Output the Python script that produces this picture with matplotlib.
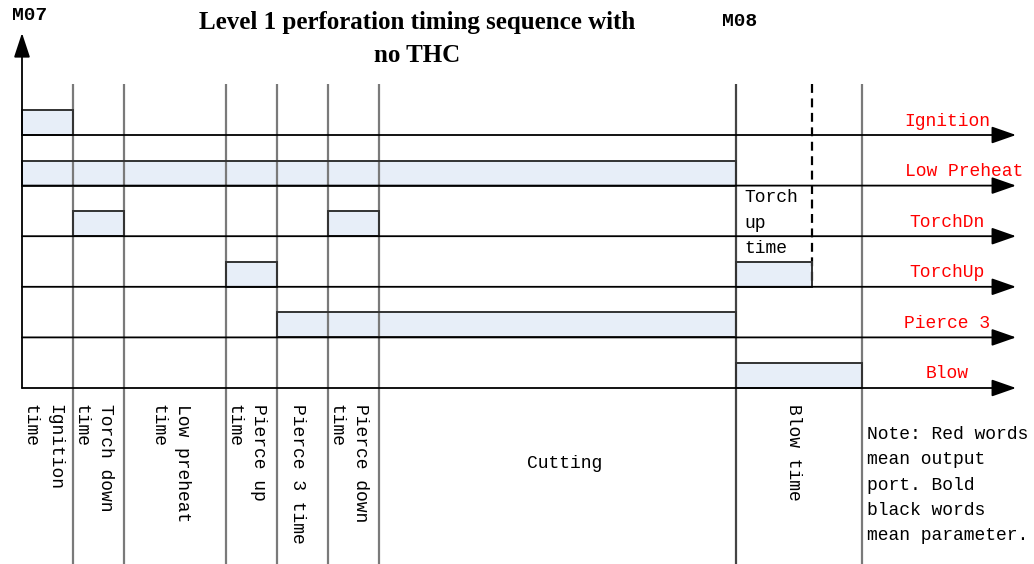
import matplotlib
matplotlib.use("Agg")
import matplotlib.pyplot as plt
from matplotlib.patches import Rectangle

# ---------------- data ----------------
# phase boundaries (time units)
phase_bounds = [0, 1, 2, 4, 5, 6, 7, 14, 16.47]
phase_labels = ["Ignition\ntime", "Torch down\ntime", "Low preheat\ntime",
                "Pierce up\ntime", "Pierce 3 time", "Pierce down\ntime",
                "Cutting", "Blow time"]
torch_up_end = 15.49          # dashed line: end of torch up time

signals = ["Ignition", "Low Preheat", "TorchDn", "TorchUp", "Pierce 3", "Blow"]
pulses = {
    "Ignition":    [(0, 1)],
    "Low Preheat": [(0, 14)],
    "TorchDn":     [(1, 2), (6, 7)],
    "TorchUp":     [(4, 5), (14, torch_up_end)],
    "Pierce 3":    [(5, 14)],
    "Blow":        [(14, 16.47)],
}
title = "Level 1 perforation timing sequence with\nno THC"
note = "Note: Red words\nmean output\nport. Bold\nblack words\nmean parameter."
torch_up_label = "Torch\nup\ntime"

# ---------------- layout ----------------
W, H = 1034, 564
X0, UX = 22.0, 51.0          # pixel of t=0, pixels per time unit
Y0, UY = 135.0, 50.6         # pixel of first baseline, pixels per row

def tx(px):   # pixel x -> time
    return (px - X0) / UX

def ry(py):   # pixel y -> row units
    return (py - Y0) / UY

fig = plt.figure(figsize=(W / 100, H / 100), dpi=100)
ax = fig.add_axes([0, 0, 1, 1])
ax.set_xlim(tx(0), tx(W))
ax.set_ylim(ry(H), ry(0))
ax.axis("off")

mono = ["Liberation Mono", "DejaVu Sans Mono"]
serif = ["Liberation Serif", "DejaVu Serif"]
fill = "#E7EEF8"
grid_c = "#7a7a7a"
t_arrow_end = tx(1016)
pulse_h = 25 / UY

# vertical dividers (drawn over the pulse fill)
top_div = ry(84)
for b in phase_bounds[1:]:
    ax.plot([b, b], [top_div, ry(H + 5)], color=grid_c if b != 14 else "#444444",
            lw=1.6, solid_capstyle="butt", zorder=3.5)
ax.plot([torch_up_end, torch_up_end], [top_div, len(signals) - 3], color="black",
        lw=1.6, ls=(0, (4, 2.5)), zorder=3.6)

# pulses: fill below dividers, outline above
for i, s in enumerate(signals):
    for a, b in pulses[s]:
        ax.add_patch(Rectangle((a, i - pulse_h), b - a, pulse_h, facecolor=fill,
                               edgecolor="none", zorder=3))
        ax.add_patch(Rectangle((a, i - pulse_h), b - a, pulse_h, facecolor="none",
                               edgecolor="#333333", lw=1.4, zorder=3.7))

# horizontal arrows
for i, s in enumerate(signals):
    ax.annotate("", xy=(t_arrow_end, i), xytext=(0, i),
                arrowprops=dict(arrowstyle="-|>,head_length=1.0,head_width=0.35",
                                color="black", lw=1.3, mutation_scale=15,
                                shrinkA=0, shrinkB=0), zorder=4)

# vertical axis
ax.annotate("", xy=(0, ry(33)), xytext=(0, len(signals) - 1),
            arrowprops=dict(arrowstyle="-|>,head_length=1.0,head_width=0.33",
                            color="black", lw=1.3, mutation_scale=15,
                            shrinkA=0, shrinkB=0), zorder=4)

# signal labels
lab_x = {s: tx(947) for s in signals}
lab_x["Low Preheat"] = tx(964)
for i, s in enumerate(signals):
    ax.text(lab_x[s], i - 14 / UY, s, color="red", fontsize=13, family=mono,
            ha="center", va="center", zorder=5)

# phase labels
for k, lab in enumerate(phase_labels):
    a, b = phase_bounds[k], phase_bounds[k + 1]
    if lab == "Cutting":
        ax.text(tx(565), ry(464), lab, fontsize=13, family=mono,
                ha="center", va="center")
    else:
        ax.text((a + b) / 2 - 0.1, ry(404), lab, fontsize=13, family=mono,
                rotation=270, ha="center", va="top", linespacing=1.6,
                multialignment="left")

ax.text(tx(744), ry(223), torch_up_label, fontsize=13, family=mono,
        ha="left", va="center", linespacing=1.64, zorder=5)
ax.text(tx(867), ry(485), note, fontsize=13, family=mono,
        ha="left", va="center", linespacing=1.64)

# title and M codes
ax.text(tx(417), ry(39), title, fontsize=18, family=serif, fontweight="bold",
        ha="center", va="center", linespacing=1.55)
ax.text(tx(30), ry(16), "M07", fontsize=14, family=mono, fontweight="bold",
        ha="center", va="center")
ax.text(tx(740), ry(22), "M08", fontsize=14, family=mono, fontweight="bold",
        ha="center", va="center")

fig.savefig("out.png", dpi=100)
